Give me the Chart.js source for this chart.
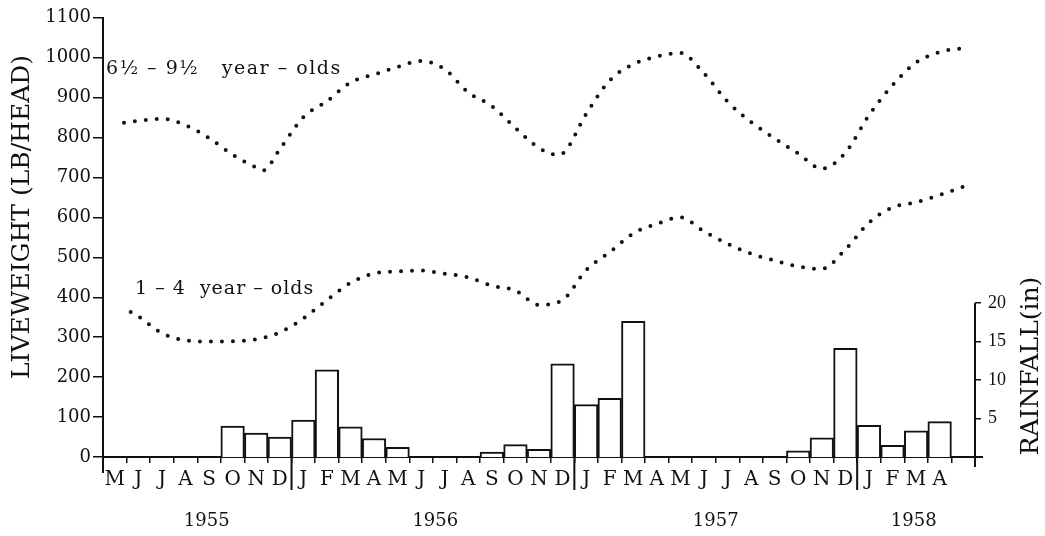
<!DOCTYPE html>
<html>
<head>
<meta charset="utf-8">
<script src="https://cdn.jsdelivr.net/npm/chart.js@4/dist/chart.umd.min.js"></script>
<style>
  html, body { margin: 0; padding: 0; background: #fff; }
  #wrap { width: 1045px; height: 536px; position: relative; }
</style>
</head>
<body>
<div id="wrap"><canvas id="c"></canvas></div>
<script>
// Months from May 1955 to May 1958
const months = ['M','J','J','A','S','O','N','D',
                'J','F','M','A','M','J','J','A','S','O','N','D',
                'J','F','M','A','M','J','J','A','S','O','N','D',
                'J','F','M','A',''];

// Monthly rainfall (inches)
const rainfall = [0, 0, 0, 0, 0, 4.0, 3.1, 2.6,
                  4.8, 11.3, 3.9, 2.4, 1.25, 0, 0, 0, 0.65, 1.6, 1.0, 12.1,
                  6.8, 7.6, 17.6, 0, 0, 0, 0, 0, 0, 0.8, 2.5, 14.1,
                  4.1, 1.5, 3.4, 4.6, 0];

// Liveweight of 6½–9½ year-olds (month position, lb/head)
const adultMonth  = [0.39, 1, 2, 3, 4, 5, 6, 6.3, 7, 8, 9, 10, 11, 12, 13, 14, 15, 16, 17, 18,
                     18.76, 19, 20, 21, 22, 23, 24, 25, 26, 27, 28, 29, 30, 31, 32, 33, 34, 35, 36, 36.2];
const adultWeight = [837, 842, 847, 831, 799, 757, 725, 718, 771, 851, 891, 938, 958, 977, 992, 971, 913, 879, 824, 774,
                     757, 760, 859, 943, 984, 1003, 1012, 961, 890, 839, 798, 760, 722, 762, 856, 931, 988, 1014, 1024, 1025];

// Liveweight of 1–4 year-olds (month position, lb/head)
const youngMonth  = [0.675, 1, 2, 3, 4, 5, 6, 7, 8, 9, 10, 11, 12, 13, 14, 15, 16, 17, 18,
                     19, 20, 21, 22, 23, 24, 25, 26, 27, 28, 29, 30, 31, 32, 33, 34, 35, 36, 36.15];
const youngWeight = [363, 352, 310, 292, 289, 290, 295, 312, 347, 393, 436, 460, 465, 467, 459, 450, 429, 417, 381,
                     393, 468, 513, 560, 584, 600, 565, 534, 509, 492, 477, 471, 520, 587, 625, 638, 656, 677, 680];

const rainTicks  = [5, 10, 15, 20];
const years      = ['1955', '1956', '1957', '1958'];
const yearAt     = [3.9, 13.6, 25.5, 33.9];   // month position of each year label
const yearBreaks = [8, 20, 32];               // first January of each new year

const SERIF = '"DejaVu Serif", "Liberation Serif", serif';
const INK = '#111';

const toPoints = (xs, ys) => xs.map((x, i) => ({ x, y: ys[i] }));

// Extra axis furniture, year labels, series captions and axis titles
const axisExtras = {
  id: 'axisExtras',
  afterDraw(chart) {
    const { ctx, chartArea: a, scales } = chart;
    const xl = scales.xl, y = scales.y, yr = scales.yr;
    ctx.save();
    ctx.strokeStyle = INK;
    ctx.lineWidth = 2;
    ctx.beginPath();
    // rainfall spine over its labelled range only
    ctx.moveTo(a.right, yr.getPixelForValue(0) + 10);
    ctx.lineTo(a.right, yr.getPixelForValue(20));
    // left spine continuing below the baseline
    ctx.moveTo(a.left, a.bottom);
    ctx.lineTo(a.left, a.bottom + 16);
    // baseline overhang past the rainfall axis
    ctx.moveTo(a.right, a.bottom);
    ctx.lineTo(a.right + 8, a.bottom);
    // year dividers
    yearBreaks.forEach(k => {
      const px = xl.getPixelForValue(k - 0.5);
      ctx.moveTo(px, a.bottom);
      ctx.lineTo(px, a.bottom + 33);
    });
    ctx.stroke();

    ctx.fillStyle = INK;
    ctx.textBaseline = 'middle';
    ctx.textAlign = 'center';
    ctx.font = '18px ' + SERIF;
    years.forEach((t, i) => ctx.fillText(t, xl.getPixelForValue(yearAt[i]), 521));

    // series captions
    ctx.textAlign = 'left';
    ctx.font = '19px ' + SERIF;
    ctx.letterSpacing = '1.5px';
    ctx.fillText('6½ – 9½   year – olds', xl.getPixelForValue(-0.37), y.getPixelForValue(971));
    ctx.letterSpacing = '1px';
    ctx.fillText('1 – 4  year – olds', xl.getPixelForValue(0.86), y.getPixelForValue(421));
    ctx.letterSpacing = '0px';

    // axis titles, reading bottom to top
    ctx.textAlign = 'center';
    ctx.font = '25px ' + SERIF;
    ctx.save();
    ctx.translate(22, 217);
    ctx.rotate(-Math.PI / 2);
    ctx.fillText('LIVEWEIGHT (LB/HEAD)', 0, 0);
    ctx.restore();
    ctx.save();
    ctx.translate(1031, 366);
    ctx.rotate(-Math.PI / 2);
    ctx.fillText('RAINFALL(in)', 0, 0);
    ctx.restore();
    ctx.restore();
  }
};

new Chart(document.getElementById('c'), {
  type: 'bar',
  data: {
    labels: months,
    datasets: [
      {
        type: 'line',
        data: toPoints(adultMonth, adultWeight),
        xAxisID: 'xl', yAxisID: 'y',
        borderColor: INK, borderWidth: 4, borderDash: [0, 11], borderCapStyle: 'round',
        pointRadius: 0, fill: false, cubicInterpolationMode: 'monotone'
      },
      {
        type: 'line',
        data: toPoints(youngMonth, youngWeight),
        xAxisID: 'xl', yAxisID: 'y',
        borderColor: INK, borderWidth: 4, borderDash: [0, 11], borderCapStyle: 'round',
        pointRadius: 0, fill: false, cubicInterpolationMode: 'monotone'
      },
      {
        type: 'bar',
        data: rainfall,
        xAxisID: 'x', yAxisID: 'yr',
        backgroundColor: '#fff', borderColor: INK, borderWidth: 2,
        borderSkipped: 'bottom', barPercentage: 1, categoryPercentage: 1, grouped: false
      }
    ]
  },
  options: {
    responsive: true,
    maintainAspectRatio: false,
    animation: false,
    events: [],
    layout: { padding: { top: 15, left: 0, right: 0, bottom: 0 } },
    plugins: { legend: { display: false }, tooltip: { enabled: false } },
    scales: {
      x: {
        type: 'category',
        position: 'bottom',
        offset: true,
        grid: { offset: true, drawOnChartArea: false, tickLength: 6, color: INK, lineWidth: 1.5 },
        border: { display: true, color: INK, width: 2 },
        ticks: { autoSkip: false, maxRotation: 0, color: INK, padding: 5, font: { family: SERIF, size: 20 } },
        afterFit: s => { s.height = 79; }
      },
      xl: {
        type: 'linear',
        display: false,
        offset: false,
        grid: { offset: false },
        min: -0.5,
        max: 36.5
      },
      y: {
        type: 'linear',
        position: 'left',
        min: 0,
        max: 1100,
        grid: { drawOnChartArea: false, tickLength: 10, color: INK, lineWidth: 1.5 },
        border: { display: true, color: INK, width: 2 },
        ticks: { stepSize: 100, color: INK, padding: 2, font: { family: SERIF, size: 18 },
                 callback: v => String(v) },
        afterFit: s => { s.width = 103; }
      },
      yr: {
        type: 'linear',
        position: 'right',
        min: 0,
        max: 57,
        afterBuildTicks: s => { s.ticks = rainTicks.map(v => ({ value: v })); },
        grid: { drawOnChartArea: false, tickLength: 6, color: INK, lineWidth: 1.5 },
        border: { display: false },
        ticks: { color: INK, padding: 7, font: { family: '"Liberation Serif", serif', size: 18 },
                 callback: v => String(v) },
        afterFit: s => { s.width = 70; }
      }
    }
  },
  plugins: [axisExtras]
});
</script>
</body>
</html>
